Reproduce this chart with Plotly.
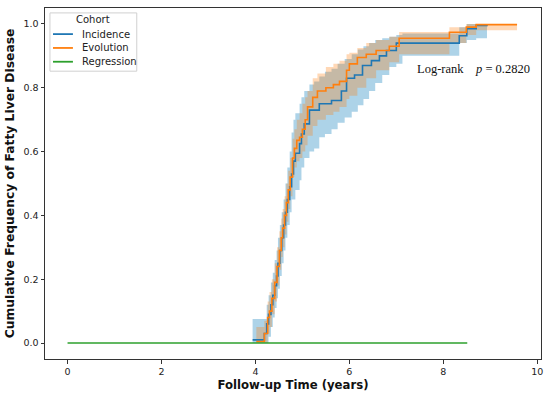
import plotly.graph_objects as go

# ---------------- data ----------------
# Incidence cohort: cumulative frequency (step curve)
inc_t = [3.94, 4.19, 4.24, 4.28, 4.33, 4.37, 4.41, 4.45, 4.48, 4.52, 4.56, 4.60, 4.64, 4.68,
         4.73, 4.77, 4.81, 4.85, 4.94, 4.98, 5.04, 5.15, 5.36, 5.62, 5.83, 5.94, 6.11, 6.28,
         6.47, 6.64, 6.79, 7.00, 8.34, 8.50, 8.70, 8.93]
inc_y = [0.01, 0.03, 0.06, 0.09, 0.12, 0.15, 0.18, 0.21, 0.25, 0.29, 0.33, 0.37, 0.41, 0.45,
         0.49, 0.53, 0.57, 0.595, 0.625, 0.655, 0.687, 0.73, 0.75, 0.76, 0.79, 0.83, 0.84, 0.87,
         0.885, 0.90, 0.917, 0.94, 0.963, 0.985, 0.995, 1.0]
# Incidence 95% CI
inc_ci_t = [3.94, 4.19, 4.24, 4.28, 4.33, 4.37, 4.41, 4.45, 4.48, 4.52, 4.56, 4.60, 4.64, 4.68,
            4.73, 4.77, 4.81, 4.85, 4.94, 4.98, 5.04, 5.15, 5.25, 5.36, 5.48, 5.62, 5.75, 5.90,
            6.05, 6.18, 6.30, 6.42, 6.55, 6.70, 6.85, 7.00, 7.13, 8.34, 8.50, 8.70, 8.93]
inc_lo = [0.0, 0.0, 0.0, 0.02, 0.05, 0.08, 0.11, 0.14, 0.17, 0.21, 0.25, 0.29, 0.33, 0.37,
          0.41, 0.45, 0.45, 0.48, 0.51, 0.55, 0.58, 0.60, 0.61, 0.645, 0.655, 0.67, 0.69, 0.707,
          0.725, 0.745, 0.765, 0.79, 0.815, 0.84, 0.865, 0.875, 0.90, 0.94, 0.95, 0.955, 0.955]
inc_hi = [0.075, 0.075, 0.12, 0.15, 0.19, 0.22, 0.26, 0.29, 0.33, 0.37, 0.41, 0.45, 0.50, 0.55,
          0.60, 0.66, 0.70, 0.72, 0.75, 0.77, 0.79, 0.81, 0.82, 0.835, 0.85, 0.86, 0.875, 0.89,
          0.905, 0.92, 0.93, 0.94, 0.95, 0.955, 0.96, 0.965, 0.97, 0.99, 1.0, 1.0, 1.0]

# Evolution cohort: cumulative frequency and 95% CI
evo_t = [4.02, 4.19, 4.26, 4.30, 4.35, 4.41, 4.46, 4.51, 4.55, 4.58, 4.62, 4.66, 4.70, 4.74,
         4.79, 4.83, 4.88, 4.94, 5.00, 5.06, 5.11, 5.22, 5.32, 5.50, 5.66, 5.79, 5.94, 6.00,
         6.17, 6.36, 6.57, 6.85, 7.06, 8.13, 8.49, 8.70, 9.57]
evo_y = [0.005, 0.03, 0.08, 0.10, 0.14, 0.19, 0.24, 0.29, 0.33, 0.36, 0.40, 0.44, 0.48, 0.52,
         0.58, 0.61, 0.635, 0.645, 0.67, 0.70, 0.74, 0.77, 0.79, 0.80, 0.81, 0.82, 0.855, 0.875,
         0.895, 0.905, 0.917, 0.93, 0.955, 0.974, 0.99, 0.998, 0.998]
evo_lo = [0.0, 0.0, 0.03, 0.05, 0.09, 0.13, 0.18, 0.23, 0.27, 0.30, 0.34, 0.38, 0.42, 0.46,
          0.52, 0.55, 0.57, 0.58, 0.60, 0.62, 0.65, 0.68, 0.70, 0.715, 0.725, 0.74, 0.765, 0.775,
          0.80, 0.83, 0.855, 0.88, 0.905, 0.94, 0.965, 0.98, 0.98]
evo_hi = [0.05, 0.07, 0.13, 0.16, 0.20, 0.25, 0.30, 0.35, 0.39, 0.42, 0.46, 0.50, 0.54, 0.58,
          0.64, 0.67, 0.70, 0.72, 0.75, 0.77, 0.79, 0.83, 0.845, 0.865, 0.875, 0.885, 0.905, 0.91,
          0.925, 0.94, 0.95, 0.96, 0.975, 0.99, 1.0, 1.0, 1.0]

# Regression cohort
reg_t = [0.0, 8.51]
reg_y = [0.0, 0.0]

x_ticks = [0, 2, 4, 6, 8, 10]
y_ticks = [0.0, 0.2, 0.4, 0.6, 0.8, 1.0]

cohort_names = ["Incidence", "Evolution", "Regression"]
cohort_colors = ["#1f77b4", "#ff7f0e", "#2ca02c"]

fig = go.Figure()

def band(t, lo, hi, fillcolor):
    fig.add_trace(go.Scatter(x=t, y=lo, mode="lines", line=dict(width=0, shape="hv"),
                             showlegend=False, hoverinfo="skip"))
    fig.add_trace(go.Scatter(x=t, y=hi, mode="lines", line=dict(width=0, shape="hv"),
                             fill="tonexty", fillcolor=fillcolor,
                             showlegend=False, hoverinfo="skip"))

band(inc_ci_t, inc_lo, inc_hi, "rgba(20,130,190,0.35)")
band(evo_t, evo_lo, evo_hi, "rgba(255,127,14,0.3)")

for name, color, t, y in zip(cohort_names, cohort_colors,
                             [inc_t, evo_t, reg_t], [inc_y, evo_y, reg_y]):
    fig.add_trace(go.Scatter(x=t, y=y, mode="lines", name=name, showlegend=False,
                             line=dict(color=color, width=1.6, shape="hv")))

# ---- matplotlib-style legend (compact) ----
fig.add_shape(type="rect", xref="paper", yref="paper", x0=0.010, x1=0.185, y0=0.820, y1=0.986,
              line=dict(color="#d0d0d0", width=1), fillcolor="rgba(255,255,255,0.85)", layer="above")
fig.add_annotation(xref="paper", yref="paper", x=0.0966, y=0.966, text="Cohort", showarrow=False,
                   xanchor="center", yanchor="middle",
                   font=dict(family="DejaVu Sans", size=10, color="#222"))
rows_y = [0.9256, 0.8862, 0.8469]
for name, color, ry in zip(cohort_names, cohort_colors, rows_y):
    fig.add_shape(type="line", xref="paper", yref="paper", x0=0.0161, x1=0.0563, y0=ry, y1=ry,
                  line=dict(color=color, width=1.8), layer="above")
    fig.add_annotation(xref="paper", yref="paper", x=0.0704, y=ry, text=name, showarrow=False,
                       xanchor="left", yanchor="middle",
                       font=dict(family="DejaVu Sans", size=10, color="#222"))

fig.add_annotation(x=8.64, y=0.86, xref="x", yref="y",
                   text="Log-rank&nbsp;&nbsp;&nbsp;&nbsp;<i>p</i> = 0.2820",
                   showarrow=False, xanchor="center", yanchor="middle",
                   font=dict(family="Liberation Serif", size=12.5, color="#111"))

axis_common = dict(showline=True, linecolor="#333", linewidth=1, mirror=True,
                   ticks="outside", ticklen=3.5, tickcolor="#333", tickwidth=1,
                   showgrid=False, zeroline=False,
                   tickfont=dict(family="DejaVu Sans", size=9.5, color="#222"))

fig.update_layout(
    width=550, height=396,
    margin=dict(l=45, r=8, t=7, b=33),
    paper_bgcolor="white", plot_bgcolor="white",
    xaxis=dict(range=[-0.48, 10.08], tickvals=x_ticks,
               ticktext=[str(v) for v in x_ticks],
               title=dict(text="<b>Follow-up Time (years)</b>", standoff=4,
                          font=dict(family="DejaVu Sans", size=11.7, color="#111")),
               **axis_common),
    yaxis=dict(range=[-0.05, 1.05], tickvals=y_ticks,
               ticktext=[f"{v:.1f}" for v in y_ticks],
               title=dict(text="<b>Cumulative Frequency of Fatty Liver Disease</b>", standoff=6,
                          font=dict(family="DejaVu Sans", size=12.3, color="#111")),
               **axis_common),
    showlegend=False,
)

fig.write_html("out.html", config={"displayModeBar": False},
               post_script="document.body.style.margin='0px';")
